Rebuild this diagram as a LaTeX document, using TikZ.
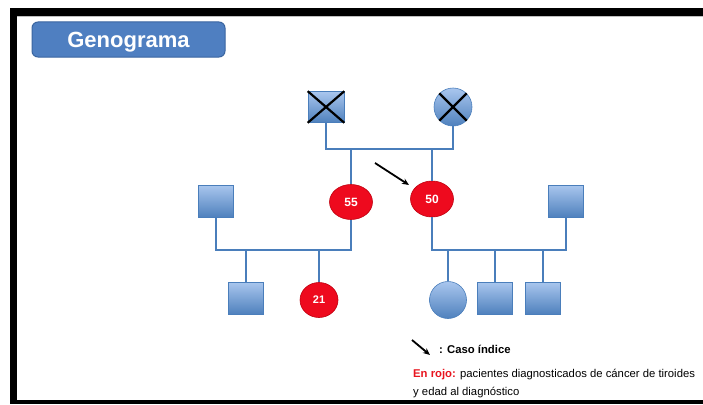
\documentclass[tikz,border=0pt]{standalone}
\usepackage{fontspec}
\setmainfont{Liberation Sans}
\usetikzlibrary{shapes.geometric,arrows.meta}
\definecolor{lineblue}{HTML}{4A7EBB}
\definecolor{shapetop}{HTML}{A9C6EE}
\definecolor{shapebot}{HTML}{4F81BD}
\definecolor{titleblue}{HTML}{4F7FC1}
\definecolor{titleedge}{HTML}{3A65A0}
\definecolor{casered}{HTML}{EE0A1E}
\definecolor{caseedge}{HTML}{C0000F}
\definecolor{legendred}{HTML}{E8151F}
\begin{document}
\begin{tikzpicture}[x=1pt,y=-1pt,
  titlebox/.style={rectangle, rounded corners=6pt, fill=titleblue, draw=titleedge, line width=1pt,
    minimum width=193pt, minimum height=35pt, text=white, inner sep=0pt,
    text height=15.8pt, text depth=0pt, font=\bfseries\fontsize{22}{26}\selectfont},
  male/.style={rectangle, draw=lineblue, line width=0.6pt, top color=shapetop, bottom color=shapebot,
    minimum width=35pt, minimum height=32pt, inner sep=0pt},
  female/.style={circle, draw=lineblue, line width=0.6pt, top color=shapetop, bottom color=shapebot,
    minimum size=37pt, inner sep=0pt},
  affected/.style={ellipse, fill=casered, draw=caseedge, line width=0.6pt, text=white,
    font=\bfseries\fontsize{12}{14}\selectfont, text height=8.6pt, text depth=0pt,
    minimum width=43pt, minimum height=35pt, inner sep=0pt},
  rel/.style={draw=lineblue, line width=2.6pt},
  deadcross/.style={draw=black, line width=2.2pt},
  ptr/.style={-{Stealth[length=7pt,width=6pt]}, line width=1.8pt, draw=black},
  legend/.style={anchor=base west, inner sep=0pt, font=\fontsize{11.3}{13}\selectfont}
]
\useasboundingbox (0,0) rectangle (703,404);
% frame
\fill[black] (10,8) rectangle (703,404);
\fill[white] (17,16) rectangle (703,400);
\draw[gray!50, line width=0.8pt] (17,16.4) -- (703,16.4);

% title
\node[titlebox] (title) at (128.5,39.5) {Genograma};

% generation I
\node[male, minimum width=36pt, minimum height=31pt] (gf) at (326,107) {};
\node[female, minimum size=38pt] (gm) at (453,107) {};
\draw[deadcross] (gf.north west) -- (gf.south east);
\draw[deadcross] (gf.north east) -- (gf.south west);
\draw[deadcross] (gm.north west) -- (gm.south east);
\draw[deadcross] (gm.north east) -- (gm.south west);

% generation II
\node[male] (sl) at (216,201) {};
\node[affected] (p55) at (351,202) {55};
\node[affected, minimum height=36pt] (p50) at (432,199) {50};
\node[male] (sr) at (566,201) {};

% generation III
\node[male] (c1) at (246,298) {};
\node[affected, minimum width=38pt, minimum height=35pt, font=\bfseries\fontsize{11}{13}\selectfont, text height=7.9pt] (c21) at (319,300) {21};
\node[female] (c3) at (448,300) {};
\node[male] (c4) at (495,298) {};
\node[male] (c5) at (543,298) {};

% relation lines
\coordinate (u1) at (390,149);
\coordinate (u2) at (280,250);
\coordinate (u3) at (500,250);
\draw[rel] (gf.south) |- (u1) -| (gm.south);
\draw[rel] (p55.north) -- (p55.north |- u1);
\draw[rel] (p50.north) -- (p50.north |- u1);
\draw[rel] (sl.south) |- (u2) -| (p55.south);
\draw[rel] (c1.north) -- (c1.north |- u2);
\draw[rel] (c21.north) -- (c21.north |- u2);
\draw[rel] (p50.south) |- (u3) -| (sr.south);
\draw[rel] (c3.north) -- (c3.north |- u3);
\draw[rel] (c4.north) -- (c4.north |- u3);
\draw[rel] (c5.north) -- (c5.north |- u3);

% index case arrow
\coordinate (a1) at (375,163);
\coordinate (a2) at (409,185);
\draw[ptr] (a1) -- (a2);

% legend
\coordinate (b1) at (412,340);
\coordinate (b2) at (430,355);
\draw[ptr] (b1) -- (b2);
\node[legend, font=\bfseries\fontsize{11.3}{13}\selectfont] (lg1) at (439,353) {: Caso índice};
\node[legend] (lg2) at (413,377) {\textcolor{legendred}{\bfseries En rojo:} pacientes diagnosticados de cáncer de tiroides};
\node[legend] (lg3) at (413,395) {y edad al diagnóstico};
\end{tikzpicture}
\end{document}
